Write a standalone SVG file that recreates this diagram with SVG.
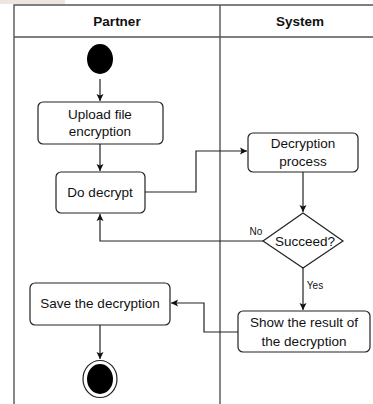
<svg xmlns="http://www.w3.org/2000/svg" width="373" height="404" viewBox="0 0 373 404">
<defs>
<marker id="ah" markerWidth="8" markerHeight="8" refX="7" refY="4" orient="auto" markerUnits="userSpaceOnUse">
<path d="M0,0.5 L7,4 L0,7.5 L1.5,4 Z" fill="#111"/>
</marker>
</defs>
<style>
.lane{fill:none;stroke:#555;stroke-width:1.4}
.box{fill:#fff;stroke:#222;stroke-width:1.2}
.t{font-family:"Liberation Sans",Arial,sans-serif;font-size:13.5px;fill:#111;text-anchor:middle}
.h{font-family:"Liberation Sans",Arial,sans-serif;font-size:13.5px;font-weight:bold;fill:#111;text-anchor:middle}
.s{font-family:"Liberation Sans",Arial,sans-serif;font-size:10px;fill:#111;text-anchor:middle}
.c{fill:none;stroke:#222;stroke-width:1.2;marker-end:url(#ah)}
</style>
<rect width="373" height="404" fill="#fff"/>
<rect x="0" y="0" width="65" height="4" fill="#efe5e0"/>
<g id="lanes">
<path class="lane" d="M14,404 V5 H373 M14,37 H373 M220,5 V404"/>
<text class="h" x="117" y="26">Partner</text>
<text class="h" x="300" y="26">System</text>
</g>
<g id="start"><ellipse cx="100" cy="59" rx="13" ry="15" fill="#000"/></g>
<g id="upload"><rect class="box" x="38" y="102" width="125" height="42" rx="5"/>
<text class="t" x="100" y="119">Upload file</text><text class="t" x="100" y="136">encryption</text></g>
<g id="dodecrypt"><rect class="box" x="56" y="172" width="89" height="41" rx="5"/>
<text class="t" x="100" y="197">Do decrypt</text></g>
<g id="process"><rect class="box" x="248" y="133" width="110" height="39" rx="5"/>
<text class="t" x="303" y="148">Decryption</text><text class="t" x="303" y="166">process</text></g>
<g id="succeed"><polygon class="box" points="303,213 343,241 303,268 263,241"/>
<text class="t" x="305" y="246">Succeed?</text></g>
<g id="show"><rect class="box" x="238" y="311" width="132" height="41" rx="5"/>
<text class="t" x="304" y="327">Show the result of</text><text class="t" x="304" y="346">the decryption</text></g>
<g id="save"><rect class="box" x="30" y="283" width="140" height="42" rx="5"/>
<text class="t" x="100" y="308">Save the decryption</text></g>
<g id="end"><ellipse cx="100" cy="379" rx="17" ry="18.5" fill="#fff" stroke="#222" stroke-width="1.2"/>
<ellipse cx="100" cy="379" rx="13" ry="15" fill="#000"/></g>
<g id="connectors">
<path class="c" d="M100,79 V101"/>
<path class="c" d="M100,144 V171"/>
<path class="c" d="M145,192 H196 V151 H247"/>
<path class="c" d="M303,172 V212"/>
<path class="c" d="M263,241 H100 V214"/>
<text class="s" x="256" y="235">No</text>
<path class="c" d="M303,268 V310"/>
<text class="s" x="315" y="289">Yes</text>
<path class="c" d="M238,332 H204 V303 H171"/>
<path class="c" d="M100,325 V359"/>
</g>
</svg>
